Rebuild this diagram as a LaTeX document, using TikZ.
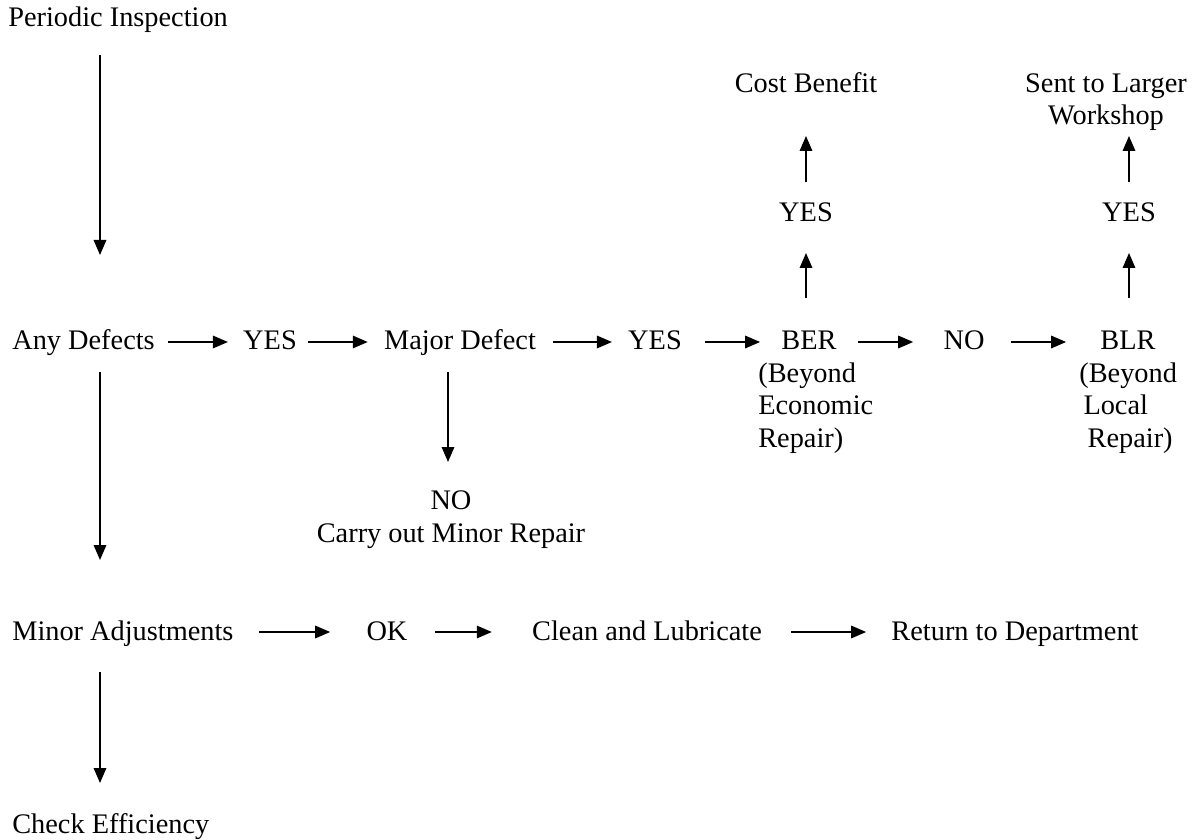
\documentclass[tikz,border=0pt]{standalone}
\usepackage{fontspec}
\setmainfont{Liberation Serif}
\usetikzlibrary{arrows.meta,calc}
\begin{document}
\begin{tikzpicture}[x=0.6pt,y=-0.6pt,
  every node/.style={inner sep=0pt, font=\fontsize{17}{19.5}\selectfont},
  lbl/.style={anchor=base},
  lft/.style={anchor=base west},
  arr/.style={line width=1pt,-{Triangle[length=9pt,width=7.5pt]}}]
\useasboundingbox (0,0) rectangle (1200,840);
% nodes (multi-line nodes: base = baseline of last line)
\node[lft] (pi) at (8,27) {Periodic Inspection};
\node[lft] (ad) at (12,350) {Any Defects};
\node[lbl] (y1) at (270,350) {YES};
\node[lbl] (md) at (460,350) {Major Defect};
\node[lbl] (y2) at (655,350) {YES};
\node[lbl] (ber) at (809,350) {BER};
\node[lft, align=left] (berd) at (758,447) {(Beyond\\Economic\\Repair)};
\node[lbl] (no) at (964,350) {NO};
\node[lbl] (blr) at (1128,350) {BLR};
\node[lft, align=left] (blrd) at (1079,447) {(Beyond\\\hspace*{2.5pt}Local\\\hspace*{5pt}Repair)};
\node[lbl] (y3) at (806,222) {YES};
\node[lbl] (cb) at (806,93) {Cost Benefit};
\node[lbl] (y4) at (1129,222) {YES};
\node[lbl, align=center] (sl) at (1106,125) {Sent to Larger\\Workshop};
\node[lbl, align=center] (nm) at (451,542) {NO\\Carry out Minor Repair};
\node[lft] (ma) at (12,640) {Minor Adjustments};
\node[lbl] (ok) at (387,640) {OK};
\node[lbl] (cl) at (647,640) {Clean and Lubricate};
\node[lbl] (rd) at (1015,640) {Return to Department};
\node[lft] (ce) at (12,833) {Check Efficiency};
% x positions of vertical connectors
\coordinate (c1) at (100,0);
\coordinate (c2) at (448,0);
\coordinate (c3) at (806,0);
\coordinate (c4) at (1129,0);
% horizontal connectors
\draw[arr,shorten <=7.8pt,shorten >=9pt] ($(ad.base east)+(0,-8)$) -- ($(y1.base west)+(0,-8)$);
\draw[arr,shorten <=6.6pt,shorten >=9.6pt] ($(y1.base east)+(0,-8)$) -- ($(md.base west)+(0,-8)$);
\draw[arr,shorten <=10.2pt,shorten >=9.6pt] ($(md.base east)+(0,-8)$) -- ($(y2.base west)+(0,-8)$);
\draw[arr,shorten <=13.8pt,shorten >=12.6pt] ($(y2.base east)+(0,-8)$) -- ($(ber.base west)+(0,-8)$);
\draw[arr,shorten <=12.6pt,shorten >=18pt] ($(ber.base east)+(0,-8)$) -- ($(no.base west)+(0,-8)$);
\draw[arr,shorten <=15.6pt,shorten >=20.4pt] ($(no.base east)+(0,-8)$) -- ($(blr.base west)+(0,-8)$);
\draw[arr,shorten <=15pt,shorten >=21.6pt] ($(ma.base east)+(0,-8)$) -- ($(ok.base west)+(0,-8)$);
\draw[arr,shorten <=16.2pt,shorten >=24pt] ($(ok.base east)+(0,-8)$) -- ($(cl.base west)+(0,-8)$);
\draw[arr,shorten <=17.4pt,shorten >=15pt] ($(cl.base east)+(0,-8)$) -- ($(rd.base west)+(0,-8)$);
% vertical connectors
\draw[arr,shorten <=16.8pt,shorten >=57pt] (pi.base -| c1) -- (ad.base -| c1);
\draw[arr,shorten <=13.2pt,shorten >=48pt] (ad.base -| c1) -- (ma.base -| c1);
\draw[arr,shorten <=13.2pt,shorten >=48pt] (md.base -| c2) -- (nm.base -| c2);
\draw[arr,shorten <=19.2pt,shorten >=30pt] (ma.base -| c1) -- (ce.base -| c1);
\draw[arr,shorten <=31.2pt,shorten >=18.6pt] (ber.base -| c3) -- (y3.base -| c3);
\draw[arr,shorten <=24pt,shorten >=25.8pt] (y3.base -| c3) -- (cb.base -| c3);
\draw[arr,shorten <=31.2pt,shorten >=18.6pt] (blr.base -| c4) -- (y4.base -| c4);
\draw[arr,shorten <=24pt,shorten >=6.6pt] (y4.base -| c4) -- (sl.base -| c4);
\end{tikzpicture}
\end{document}
